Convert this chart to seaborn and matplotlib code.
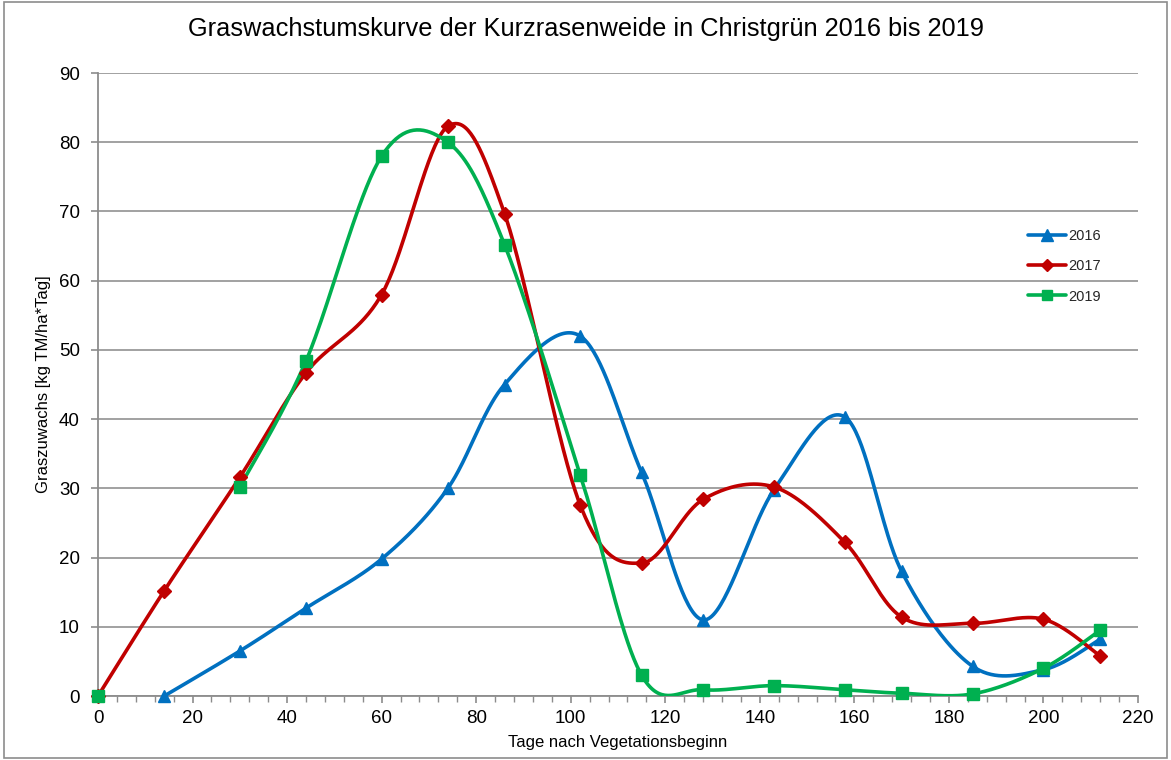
import numpy as np
import matplotlib
matplotlib.use("Agg")
import matplotlib.pyplot as plt
from matplotlib.lines import Line2D
from matplotlib.patches import Rectangle
from matplotlib.ticker import MultipleLocator
import seaborn as sns

# ---- data ----
days = [0, 14, 30, 44, 60, 74, 86, 102, 115, 128, 143, 158, 170, 185, 200, 212]
y2016 = [np.nan, 0.0, 6.5, 12.7, 19.8, 30.0, 45.0, 52.0, 32.3, 11.0, 29.8, 40.3, 18.0, 4.3, 3.8, 8.2]
y2017 = [0.0, 15.2, 31.6, 46.7, 58.0, 82.3, 69.7, 27.6, 19.2, 28.4, 30.2, 22.2, 11.4, 10.5, 11.1, 5.8]
y2019 = [0.0, np.nan, 30.2, 48.4, 78.0, 80.0, 65.2, 32.0, 3.0, 0.9, 1.5, 0.9, 0.4, 0.3, 4.0, 9.5]
series = ["2016", "2017", "2019"]
colors = {"2016": "#0070C0", "2017": "#C00000", "2019": "#00B050"}
markers = {"2016": "^", "2017": "D", "2019": "s"}
msizes = {"2016": 9, "2017": 7, "2019": 8}
values = {"2016": y2016, "2017": y2017, "2019": y2019}

title = "Graswachstumskurve der Kurzrasenweide in Christgrün 2016 bis 2019"
xlabel = "Tage nach Vegetationsbeginn"
ylabel = "Graszuwachs [kg TM/ha*Tag]"


def smooth_segments(x, y, n=40):
    """Excel-like smoothed line (Catmull-Rom Bezier) for each run without gaps."""
    x = np.asarray(x, float)
    y = np.asarray(y, float)
    ok = ~np.isnan(y)
    runs, cur = [], []
    for i in range(len(x)):
        if ok[i]:
            cur.append(i)
        else:
            if cur:
                runs.append(cur)
            cur = []
    if cur:
        runs.append(cur)
    out = []
    for r in runs:
        if len(r) < 2:
            continue
        P = np.column_stack([x[r], y[r]])
        pts = []
        m = len(P)
        for k in range(m - 1):
            p0 = P[k - 1] if k > 0 else P[k]
            p1 = P[k]
            p2 = P[k + 1]
            p3 = P[k + 2] if k + 2 < m else P[k + 1]
            c1 = p1 + (p2 - p0) / 6.0
            c2 = p2 - (p3 - p1) / 6.0
            t = np.linspace(0, 1, n)[:, None]
            b = ((1 - t) ** 3) * p1 + 3 * ((1 - t) ** 2) * t * c1 + 3 * (1 - t) * t ** 2 * c2 + t ** 3 * p2
            pts.append(b if k == 0 else b[1:])
        out.append(np.vstack(pts))
    return out


sns.set_theme(style="white")
plt.rcParams['font.family'] = ['Liberation Sans', 'DejaVu Sans']

fig = plt.figure(figsize=(11.71, 7.60), dpi=100)
ax = fig.add_axes([0.0837, 0.0842, 0.9718 - 0.0837, 0.9039 - 0.0842])

for s in series:
    for seg in smooth_segments(days, values[s]):
        sns.lineplot(x=seg[:, 0], y=seg[:, 1], sort=False, estimator=None,
                     color=colors[s], lw=2.6, ax=ax, zorder=3)
    xs = np.array(days, float)
    ys = np.array(values[s], float)
    m = ~np.isnan(ys)
    ax.plot(xs[m], ys[m], ls="none", marker=markers[s], ms=msizes[s],
            color=colors[s], mec=colors[s], zorder=4, clip_on=False)

ax.set_xlim(0, 220)
ax.set_ylim(0, 90)
ax.xaxis.set_major_locator(MultipleLocator(20))
ax.xaxis.set_minor_locator(MultipleLocator(4))
ax.yaxis.set_major_locator(MultipleLocator(10))
ax.grid(axis="y", color="#9a9a9a", lw=1.3, zorder=0)
ax.set_axisbelow(True)
for side in ["top", "right"]:
    ax.spines[side].set_visible(False)
for side in ["left", "bottom"]:
    ax.spines[side].set_color("#8c8c8c")
    ax.spines[side].set_linewidth(1.3)
ax.tick_params(axis="both", which="major", direction="out", length=5, width=1.2,
               color="#8c8c8c", labelsize=13.5, labelcolor="black", bottom=True, left=True)
ax.tick_params(axis="y", which="major", pad=8)
ax.tick_params(axis="x", which="major", pad=5)
ax.tick_params(axis="x", which="minor", direction="out", length=4, width=1.0,
               color="#8c8c8c", bottom=True)
ax.set_xlabel(xlabel, fontsize=12, color="black", labelpad=6)
ax.set_ylabel(ylabel, fontsize=12, color="black", labelpad=6)
fig.suptitle(title, fontsize=18.3, y=0.978, color="black")

handles = [Line2D([0], [0], color=colors[s], lw=2.6, marker=markers[s], ms=msizes[s] * 0.9)
           for s in series]
ax.legend(handles, series, loc="upper left", bbox_to_anchor=(0.882, 0.77), frameon=False,
          fontsize=10.5, handlelength=2.6, handletextpad=0.1, labelspacing=1.1)

fig.patches.append(Rectangle((0.003, 0.002), 0.994, 0.996, transform=fig.transFigure,
                             fill=False, edgecolor="#8c8c8c", lw=1.2))

fig.savefig("out.png", dpi=100)
